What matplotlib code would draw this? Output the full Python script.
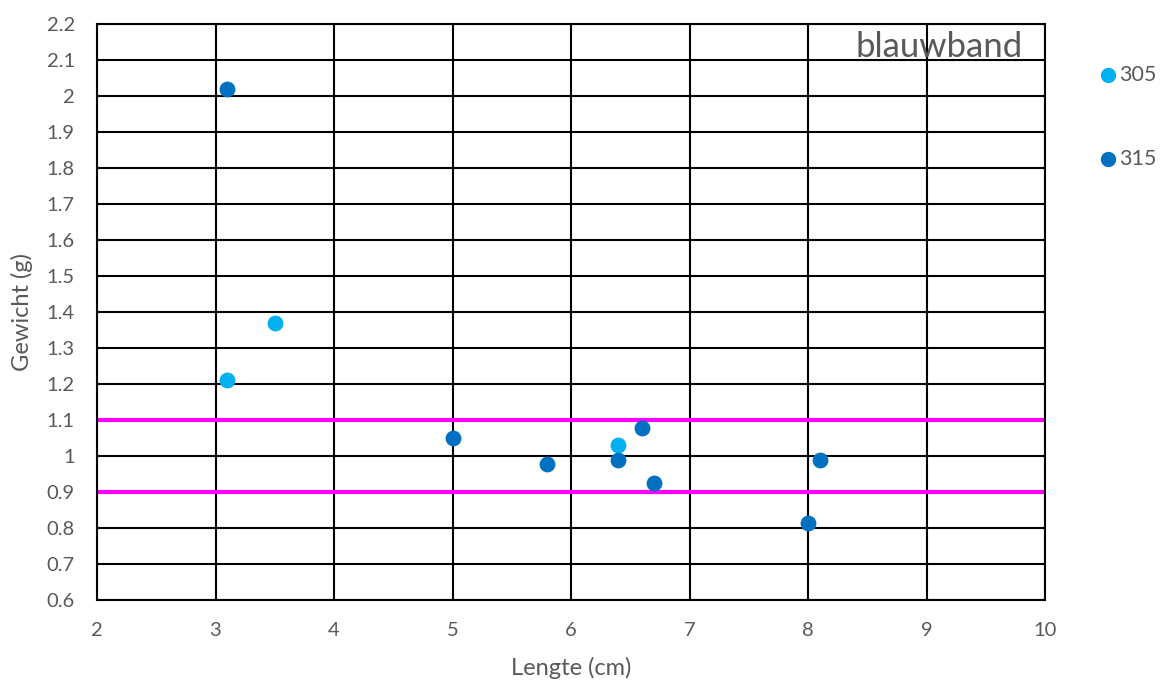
import matplotlib.pyplot as plt
from matplotlib.lines import Line2D

# Lengte (cm) en gewicht (g) per groep
lengte_305 = [3.5, 3.1, 6.4]
gewicht_305 = [1.37, 1.21, 1.03]

lengte_315 = [3.1, 5.0, 5.8, 6.4, 6.6, 6.7, 8.0, 8.1]
gewicht_315 = [2.02, 1.05, 0.978, 0.99, 1.078, 0.925, 0.814, 0.988]

grens_onder = 0.9
grens_boven = 1.1

plt.rcParams["font.family"] = ["Lato", "DejaVu Sans"]
grey = "#595959"

fig = plt.figure(figsize=(11.66, 6.84), dpi=100)
ax = fig.add_axes([97 / 1166, 1 - 600 / 684, (1045 - 97) / 1166, (600 - 24) / 684])

ax.set_xlim(2, 10)
ax.set_ylim(0.6, 2.2)
ax.set_xticks(range(2, 11))
ax.set_yticks([round(0.6 + 0.1 * i, 1) for i in range(17)])
ax.set_yticklabels([f"{0.6 + 0.1 * i:g}" if i != 4 else "1" for i in range(17)])
ax.grid(True, color="black", linewidth=1.5)
ax.set_axisbelow(True)
for side in ax.spines.values():
    side.set_color("black")
    side.set_linewidth(1.5)
ax.tick_params(length=0, labelsize=14.5, colors=grey)
ax.tick_params(axis="y", pad=16)
ax.tick_params(axis="x", pad=16)

# grenslijnen
ax.axhline(grens_boven, color="#FF00FF", linewidth=3, zorder=2)
ax.axhline(grens_onder, color="#FF00FF", linewidth=3, zorder=2)

ax.scatter(lengte_305, gewicht_305, s=130, color="#00B0F0", zorder=3, linewidths=0)
ax.scatter(lengte_315, gewicht_315, s=130, color="#0070C0", zorder=3, linewidths=0)

ax.set_xlabel("Lengte (cm)", fontsize=17, color=grey, labelpad=13)
ax.set_ylabel("Gewicht (g)", fontsize=17, color=grey, labelpad=10)
ax.text(0.977, 0.988, "blauwband", transform=ax.transAxes, ha="right", va="top",
        fontsize=25, color=grey)

# legenda rechts naast de grafiek
for y_pix, kleur, naam in [(75, "#00B0F0", "305"), (159, "#0070C0", "315")]:
    fig.add_artist(Line2D([1108 / 1166], [1 - y_pix / 684], marker="o", markersize=10,
                          color=kleur, linestyle="none", transform=fig.transFigure))
    fig.text(1119 / 1166, 1 - y_pix / 684, naam, fontsize=15.5, color=grey, va="center")

fig.savefig("out.png", dpi=100)
